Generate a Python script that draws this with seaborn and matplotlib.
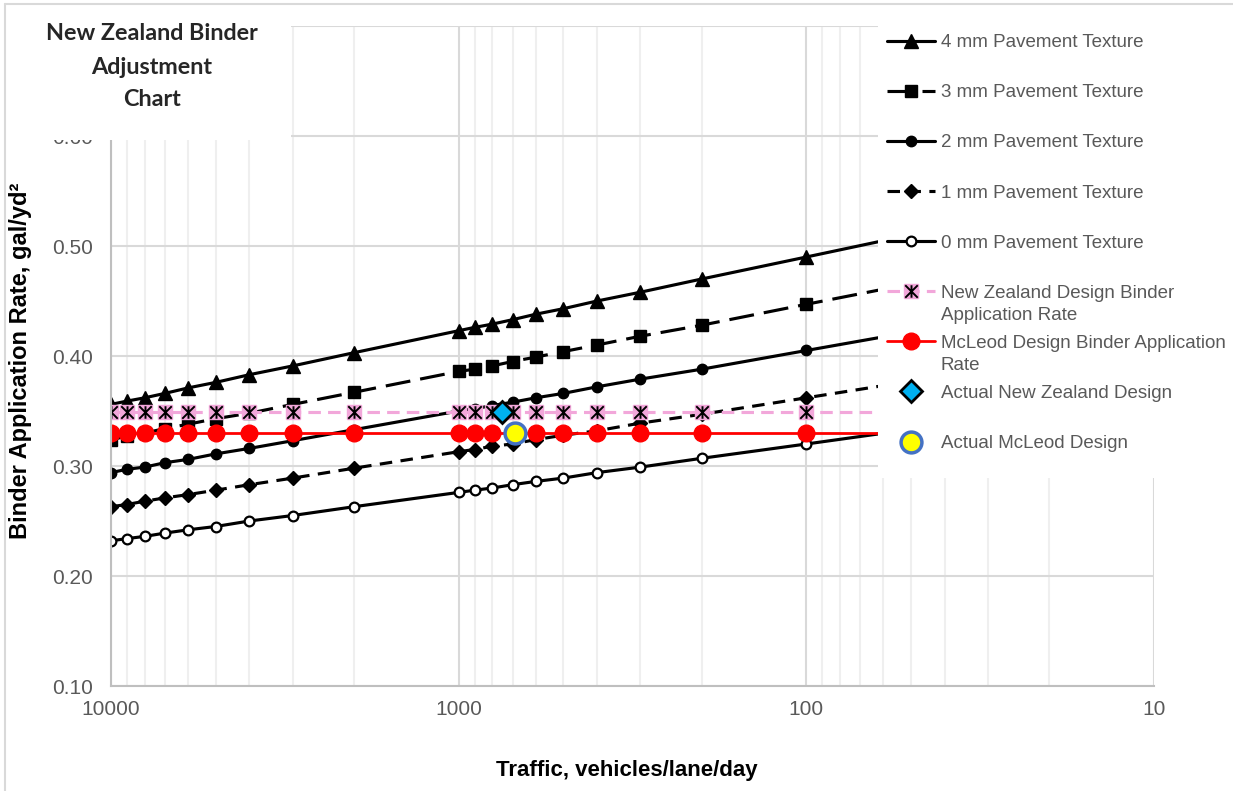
import pandas as pd
import matplotlib.pyplot as plt
import seaborn as sns
from matplotlib.patches import Rectangle
from matplotlib.lines import Line2D
from matplotlib.path import Path
from matplotlib.ticker import FixedLocator, FuncFormatter, NullFormatter
from matplotlib.transforms import IdentityTransform

# traffic (vehicles/lane/day); last point (10) only carries the line on under the legend
traffic = [10000, 9000, 8000, 7000, 6000, 5000, 4000, 3000, 2000, 1000,
           900, 800, 700, 600, 500, 400, 300, 200, 100, 10]

tex_4mm = [0.356, 0.359, 0.362, 0.366, 0.371, 0.376, 0.383, 0.391, 0.403, 0.423,
           0.426, 0.429, 0.433, 0.438, 0.443, 0.450, 0.458, 0.470, 0.490, 0.557]
tex_3mm = [0.324, 0.327, 0.330, 0.334, 0.338, 0.343, 0.348, 0.356, 0.367, 0.386,
           0.388, 0.391, 0.395, 0.399, 0.404, 0.410, 0.418, 0.428, 0.447, 0.509]
tex_2mm = [0.294, 0.297, 0.299, 0.303, 0.306, 0.311, 0.316, 0.323, 0.333, 0.350,
           0.352, 0.355, 0.358, 0.362, 0.366, 0.372, 0.379, 0.388, 0.405, 0.461]
tex_1mm = [0.263, 0.265, 0.268, 0.271, 0.274, 0.278, 0.283, 0.289, 0.298, 0.313,
           0.315, 0.318, 0.320, 0.324, 0.328, 0.332, 0.339, 0.347, 0.362, 0.412]
tex_0mm = [0.232, 0.234, 0.236, 0.239, 0.242, 0.245, 0.250, 0.255, 0.263, 0.276,
           0.278, 0.280, 0.283, 0.286, 0.289, 0.294, 0.299, 0.307, 0.320, 0.364]
nz_design = [0.349] * 20
mcleod_design = [0.330] * 20

actual_nz_traffic = [750]
actual_nz_rate = [0.349]
actual_mcleod_traffic = [690]
actual_mcleod_rate = [0.330]

GRAY_TXT = '#595959'
PINK = '#F2A7DA'

sns.set_style('white')
plt.rcParams['font.family'] = ['Liberation Sans', 'DejaVu Sans']

W, H = 1233, 791
fig = plt.figure(figsize=(W / 100, H / 100), dpi=100)
ax = fig.add_axes([111 / W, 1 - 686 / H, (1154 - 111) / W, (686 - 26) / H])
ax.set_xscale('log')

marked = slice(0, 19)
common = dict(ax=ax, sort=False, legend=False, markevery=marked, color='black', lw=2.25)

sns.lineplot(x=traffic, y=tex_4mm, marker='^', markersize=10, markerfacecolor='black',
             markeredgecolor='black', markeredgewidth=1, **common)
h4 = ax.lines[-1]
sns.lineplot(x=traffic, y=tex_3mm, marker='s', markersize=8, markerfacecolor='black',
             markeredgecolor='black', markeredgewidth=1, linestyle=(0, (8, 3.2)), **common)
h3 = ax.lines[-1]
sns.lineplot(x=traffic, y=tex_2mm, marker='o', markersize=7.5, markerfacecolor='black',
             markeredgecolor='black', markeredgewidth=1, **common)
h2 = ax.lines[-1]
sns.lineplot(x=traffic, y=tex_1mm, marker='D', markersize=7, markerfacecolor='black',
             markeredgecolor='black', markeredgewidth=1, linestyle=(0, (4, 2.7)), **common)
h1 = ax.lines[-1]
sns.lineplot(x=traffic, y=tex_0mm, marker='o', markersize=7, markerfacecolor='white',
             markeredgecolor='black', markeredgewidth=1.6, **common)
h0 = ax.lines[-1]

# NZ design rate: pink dashed with pink squares, black star on top
sns.lineplot(x=traffic, y=nz_design, ax=ax, sort=False, legend=False, markevery=marked,
             color=PINK, lw=2.25, linestyle=(0, (4, 2.3)), marker='s', markersize=10,
             markerfacecolor=PINK, markeredgecolor=PINK, markeredgewidth=1)
hnz = ax.lines[-1]
star = Path([(0, -1), (0, 1), (-1, -1), (1, 1), (-1, 1), (1, -1)],
            [Path.MOVETO, Path.LINETO] * 3)
sns.lineplot(x=traffic, y=nz_design, ax=ax, sort=False, legend=False, markevery=marked,
             color='black', linestyle='none', marker=star, markersize=9,
             markeredgecolor='black', markeredgewidth=1.4)
hstar = ax.lines[-1]

sns.lineplot(x=traffic, y=mcleod_design, ax=ax, sort=False, legend=False, markevery=marked,
             color='#FF0000', lw=2, marker='o', markersize=12, markerfacecolor='#FF0000',
             markeredgecolor='#FF0000', markeredgewidth=1)
hmc = ax.lines[-1]

sns.lineplot(x=actual_nz_traffic, y=actual_nz_rate, ax=ax, legend=False, linestyle='none',
             marker='D', markersize=11, markerfacecolor='#00B0F0', markeredgecolor='black',
             markeredgewidth=2, color='#00B0F0')
hanz = ax.lines[-1]
sns.lineplot(x=actual_mcleod_traffic, y=actual_mcleod_rate, ax=ax, legend=False,
             linestyle='none', marker='o', markersize=15, markerfacecolor='#FFFF00',
             markeredgecolor='#4472C4', markeredgewidth=2.5, color='#FFFF00')
hamc = ax.lines[-1]

ax.set_xlim(10000, 10)
ax.set_ylim(0.10, 0.70)
ax.xaxis.set_major_locator(FixedLocator([10000, 1000, 100, 10]))
ax.xaxis.set_major_formatter(FuncFormatter(lambda v, p: f'{v:g}'))
ax.xaxis.set_minor_locator(FixedLocator([m * d for d in (10, 100, 1000) for m in range(2, 10)]))
ax.xaxis.set_minor_formatter(NullFormatter())
ax.yaxis.set_major_locator(FixedLocator([0.1, 0.2, 0.3, 0.4, 0.5, 0.6, 0.7]))
# the 0.70 label sits behind the title box in the original, so it is left out
ax.yaxis.set_major_formatter(FuncFormatter(lambda v, p: '' if v > 0.65 else f'{v:.2f}'))
ax.tick_params(axis='both', which='both', length=0, labelsize=15, labelcolor=GRAY_TXT)
ax.tick_params(axis='x', pad=10)
ax.tick_params(axis='y', pad=13)
ax.grid(True, which='major', color='#D9D9D9', lw=1.5)
ax.grid(True, which='minor', axis='x', color='#EFEFEF', lw=1.5)
ax.set_axisbelow(True)
for side in ('top', 'right'):
    ax.spines[side].set_visible(False)
for side in ('left', 'bottom'):
    ax.spines[side].set_color('#BFBFBF')
    ax.spines[side].set_linewidth(1.5)

ax.set_xlabel('Traffic, vehicles/lane/day', fontsize=16, fontweight='bold', color='black')
ax.set_ylabel('Binder Application Rate, gal/yd²', fontsize=17, fontweight='bold', color='black')
ax.xaxis.set_label_coords((627 - 111) / 1043, (686 - 760) / 660)
ax.yaxis.set_label_coords((32 - 111) / 1043, (686 - 361) / 660)

# white boxes that sit over the plot area, as in the original
fig.add_artist(Rectangle((0, 1 - 140 / H), 291 / W, 140 / H, transform=fig.transFigure,
                         facecolor='white', edgecolor='none', zorder=2))
fig.add_artist(Rectangle((878 / W, 1 - 478 / H), 1 - 878 / W, (478 - 10) / H,
                         transform=fig.transFigure, facecolor='white', edgecolor='none',
                         zorder=2))

for txt, ypx in [('New Zealand Binder', 33), ('Adjustment', 67), ('Chart', 100)]:
    fig.text(152 / W, 1 - ypx / H, txt, ha='center', va='center', fontsize=16.8,
             fontweight='bold', family=['Lato', 'DejaVu Sans'], zorder=3)

handles = [h4, h3, h2, h1, h0, (hnz, hstar), hmc, hanz, hamc]
labels = ['4 mm Pavement Texture', '3 mm Pavement Texture', '2 mm Pavement Texture',
          '1 mm Pavement Texture', '0 mm Pavement Texture', 'New Zealand Design Binder',
          'McLeod Design Binder Application', 'Actual New Zealand Design',
          'Actual McLeod Design']
fs = 13.5
leg = fig.legend(handles, labels, loc='upper left', bbox_to_anchor=(887 / W, 1 - 34 / H),
                 frameon=False, fontsize=fs, labelcolor=GRAY_TXT, borderpad=0,
                 borderaxespad=0, handlelength=48 / (fs * 100 / 72),
                 handletextpad=6 / (fs * 100 / 72), labelspacing=1.76)
leg.set_zorder(4)

fig.canvas.draw()
renderer = fig.canvas.get_renderer()
for t, extra in [(leg.get_texts()[5], 'Application Rate'), (leg.get_texts()[6], 'Rate')]:
    bb = t.get_window_extent(renderer)
    fig.text(bb.x0, bb.y0 - 22, extra, transform=IdentityTransform(), fontsize=fs,
             color=GRAY_TXT, ha='left', va='bottom', zorder=5)

# chart area border (left/top visible)
fig.add_artist(Line2D([5 / W, 5 / W], [0, 1 - 4 / H], transform=fig.transFigure,
                      color='#D9D9D9', lw=1.5, zorder=6))
fig.add_artist(Line2D([5 / W, 1], [1 - 4 / H, 1 - 4 / H], transform=fig.transFigure,
                      color='#D9D9D9', lw=1.5, zorder=6))

fig.savefig('out.png', dpi=100)
